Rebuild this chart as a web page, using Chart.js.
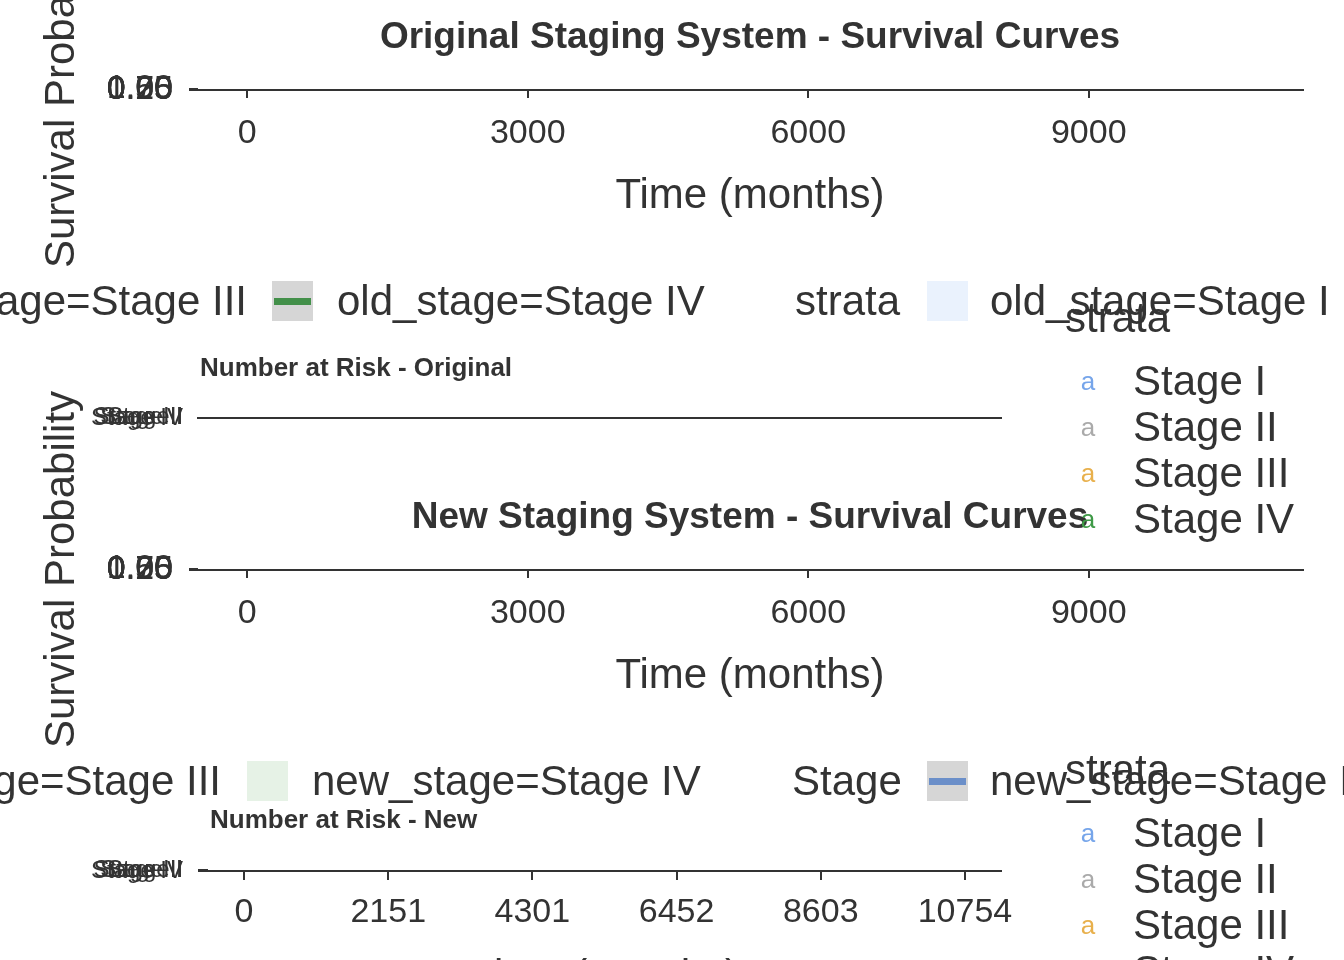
<!DOCTYPE html>
<html>
<head>
<meta charset="utf-8">
<title>Staging systems - survival curves</title>
<script src="https://cdn.jsdelivr.net/npm/chart.js@4.4.0/dist/chart.umd.min.js"></script>
<style>
  html, body { margin: 0; padding: 0; background: #fff; }
  body { width: 1344px; height: 960px; overflow: hidden; position: relative;
         font-family: "Liberation Sans", Arial, sans-serif; color: #333; }
  .box { position: absolute; }
  .t { position: absolute; white-space: nowrap; line-height: 1; }
  .c { transform: translate(-50%, -50%); }
  .l { transform: translateY(-50%); }
  .r { transform: translate(-100%, -50%); }
  .key { position: absolute; width: 41px; height: 40px; transform: translateY(-50%); }
  .key i { position: absolute; left: 2px; right: 2px; top: 17px; height: 7px; }
</style>
</head>
<body>

<div class="box" style="left:0;top:0;width:1344px;height:290px"><canvas id="survOld"></canvas></div>
<div class="box" style="left:0;top:360px;width:1344px;height:100px"><canvas id="riskOld"></canvas></div>
<div class="box" style="left:0;top:370px;width:1344px;height:400px"><canvas id="survNew"></canvas></div>
<div class="box" style="left:0;top:810px;width:1344px;height:200px"><canvas id="riskNew"></canvas></div>

<div id="text"></div>

<script>
// strata and axis breaks
var oldStrata = ['Stage I', 'Stage II', 'Stage III', 'Stage IV'];
var newStrata = ['Stage I', 'Stage II', 'Stage III', 'Stage IV'];
var strataColors = ['#76a5ea', '#aaaaaa', '#e8b04c', '#3f9a47'];
var survTicks = [0, 3000, 6000, 9000];
var probTicks = [0, 0.25, 0.5, 0.75, 1];
var riskTicks = [0, 2151, 4301, 6452, 8603, 10754];
var timeRange = [-537.7, 11291.7];

var FONT = '"Liberation Sans", Arial, sans-serif';
var INK = '#333333';

function fixTicks(values) {
    return function (scale) {
        scale.ticks = values.map(function (v) { return { value: v }; });
    };
}

// survival panel: the plot area is squashed to one pixel, as in the picture
function survivalChart(id, topPad, canvasH) {
    var xHeight = canvasH - topPad - 1;
    var ctx = document.getElementById(id).getContext('2d');
    return new Chart(ctx, {
        type: 'line',
        data: { datasets: [] },
        options: {
            responsive: true,
            maintainAspectRatio: false,
            animation: false,
            layout: { padding: { top: topPad, left: 0, right: 41, bottom: 0 } },
            plugins: { legend: { display: false }, tooltip: { enabled: false } },
            scales: {
                x: {
                    type: 'linear', position: 'bottom',
                    min: timeRange[0], max: timeRange[1],
                    afterBuildTicks: fixTicks(survTicks),
                    afterFit: function (s) { s.height = xHeight; },
                    ticks: { autoSkip: false, maxRotation: 0, padding: 15.6, color: INK,
                             font: { family: FONT, size: 34 },
                             callback: function (v) { return String(v); } },
                    grid: { drawOnChartArea: false, drawTicks: true, tickLength: 8, color: INK, lineWidth: 2 },
                    border: { display: true, color: INK, width: 2 },
                    title: { display: true, text: 'Time (months)', color: INK,
                             font: { family: FONT, size: 42 },
                             padding: { top: 0, bottom: xHeight - 106 - 25.2 } }
                },
                y: {
                    type: 'linear', position: 'left', min: 0, max: 1,
                    afterBuildTicks: fixTicks(probTicks),
                    afterFit: function (s) { s.width = 197; },
                    ticks: { autoSkip: false, padding: 16, color: INK,
                             font: { family: FONT, size: 34 },
                             callback: function (v) { return Number(v).toFixed(2); } },
                    grid: { drawOnChartArea: false, drawTicks: true, tickLength: 8, color: INK, lineWidth: 2 },
                    border: { display: true, color: INK, width: 2 },
                    title: { display: true, text: 'Survival Probability', color: INK,
                             font: { family: FONT, size: 42 },
                             padding: { top: 37, bottom: 0 } }
                }
            }
        }
    });
}

// risk table panel, also squashed
function riskChart(id, strata, topPad, canvasH, left, showX) {
    var xHeight = canvasH - topPad - 1;
    var ctx = document.getElementById(id).getContext('2d');
    return new Chart(ctx, {
        type: 'line',
        data: { labels: strata, datasets: [] },
        options: {
            responsive: true,
            maintainAspectRatio: false,
            animation: false,
            layout: { padding: { top: topPad, left: 0, right: 343, bottom: 0 } },
            plugins: { legend: { display: false }, tooltip: { enabled: false } },
            scales: {
                x: {
                    type: 'linear', position: 'bottom',
                    min: timeRange[0], max: timeRange[1],
                    afterBuildTicks: fixTicks(riskTicks),
                    afterFit: function (s) { s.height = xHeight; },
                    ticks: { display: showX, autoSkip: false, maxRotation: 0, padding: 12.6, color: INK,
                             font: { family: FONT, size: 34 },
                             callback: function (v) { return String(v); } },
                    grid: { drawOnChartArea: false, drawTicks: showX, tickLength: 9, color: INK, lineWidth: 2 },
                    border: { display: true, color: INK, width: 2 },
                    title: { display: showX, text: 'Time (months)', color: INK,
                             font: { family: FONT, size: 42 },
                             padding: { top: 0, bottom: xHeight - 106 - 25.2 } }
                },
                y: {
                    type: 'category', position: 'left', labels: strata,
                    afterFit: function (s) { s.width = left; },
                    ticks: { autoSkip: false, padding: 15, color: INK,
                             font: { family: FONT, size: 24 } },
                    grid: { drawOnChartArea: false, drawTicks: showX, tickLength: 10, color: INK, lineWidth: 2 },
                    border: { display: false }
                }
            }
        }
    });
}

survivalChart('survOld', 89, 290);
riskChart('riskOld', oldStrata, 57, 100, 198, false);
survivalChart('survNew', 199, 400);
riskChart('riskNew', newStrata, 60, 200, 208, true);

// titles and legends as text
var layer = document.getElementById('text');

function text(str, x, y, cls, size, extra) {
    var d = document.createElement('div');
    d.className = 't ' + cls;
    d.textContent = str;
    d.style.left = x + 'px';
    d.style.top = y + 'px';
    d.style.fontSize = size + 'px';
    if (extra) d.style.cssText += extra;
    layer.appendChild(d);
}

function key(x, y, fill, line) {
    var k = document.createElement('div');
    k.className = 'key';
    k.style.left = x + 'px';
    k.style.top = y + 'px';
    k.style.background = fill;
    if (line) {
        var i = document.createElement('i');
        i.style.background = line;
        k.appendChild(i);
    }
    layer.appendChild(k);
}

function sideLegend(strata, y0) {
    text('strata', 1065, y0, 'l', 42);
    strata.forEach(function (s, i) {
        var y = y0 + 63 + i * 46;
        text('a', 1088, y, 'c', 26, 'color:' + strataColors[i]);
        text(s, 1133, y, 'l', 42);
    });
}

text('Original Staging System - Survival Curves', 750, 35, 'c', 37, 'font-weight:bold');
text('New Staging System - Survival Curves', 750, 515, 'c', 37, 'font-weight:bold');
text('Number at Risk - Original', 200, 367, 'l', 26, 'font-weight:bold');
text('Number at Risk - New', 210, 819, 'l', 26, 'font-weight:bold');

// the overflowing horizontal legends
text('old_stage=Stage III', 247, 301, 'r', 42);
key(272, 301, '#d6d6d6', '#43904a');
text('old_stage=Stage IV', 337, 301, 'l', 42);
text('strata', 795, 301, 'l', 42);
key(927, 301, '#eaf2fd', null);
text('old_stage=Stage I', 990, 301, 'l', 42);

text('new_stage=Stage III', 221, 781, 'r', 42);
key(247, 781, '#e6f2e6', null);
text('new_stage=Stage IV', 312, 781, 'l', 42);
text('Stage', 792, 781, 'l', 42);
key(927, 781, '#d6d6d6', '#6b8fc9');
text('new_stage=Stage I', 990, 781, 'l', 42);

sideLegend(oldStrata, 318);
sideLegend(newStrata, 770);
</script>
</body>
</html>
